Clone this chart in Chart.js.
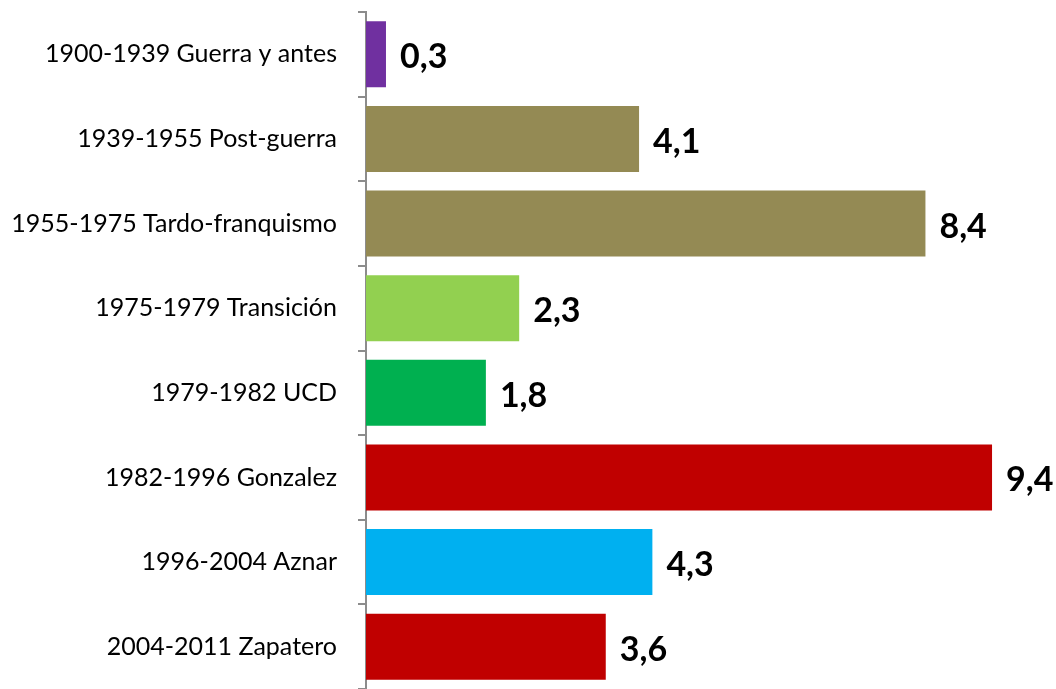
<!DOCTYPE html>
<html>
<head>
<meta charset="utf-8">
<script src="https://cdn.jsdelivr.net/npm/chart.js@4"></script>
<style>
  html, body { margin: 0; padding: 0; background: #fff; }
  #wrap { width: 1056px; height: 689px; position: relative; }
</style>
</head>
<body>
<div id="wrap"><canvas id="chart"></canvas></div>
<script>
const periodos = [
  '1900-1939 Guerra y antes',
  '1939-1955 Post-guerra',
  '1955-1975 Tardo-franquismo',
  '1975-1979 Transición',
  '1979-1982 UCD',
  '1982-1996 Gonzalez',
  '1996-2004 Aznar',
  '2004-2011 Zapatero',
];
const valores = [0.3, 4.1, 8.4, 2.3, 1.8, 9.4, 4.3, 3.6];
const colores = ['#7030A0', '#948A54', '#948A54', '#92D050', '#00B050', '#C00000', '#00B0F0', '#C00000'];

// value labels to the right of each bar
const valueLabels = {
  id: 'valueLabels',
  afterDatasetsDraw(chart) {
    const ctx = chart.ctx;
    const meta = chart.getDatasetMeta(0);
    ctx.save();
    ctx.font = 'bold 34px Lato, "Open Sans", sans-serif';
    ctx.fillStyle = '#000';
    ctx.textAlign = 'left';
    ctx.textBaseline = 'middle';
    meta.data.forEach((bar, i) => {
      const txt = valores[i].toFixed(1).replace('.', ',');
      ctx.fillText(txt, bar.x + 14, bar.y + 3);
    });
    ctx.restore();
  },
};

new Chart(document.getElementById('chart'), {
  type: 'bar',
  data: {
    labels: periodos,
    datasets: [{
      data: valores,
      backgroundColor: colores,
      borderWidth: 0,
      categoryPercentage: 0.78,
      barPercentage: 1,
    }],
  },
  options: {
    indexAxis: 'y',
    responsive: true,
    maintainAspectRatio: false,
    animation: false,
    layout: { padding: { top: 12, right: 24, bottom: -2, left: 0 } },
    plugins: { legend: { display: false }, tooltip: { enabled: false } },
    scales: {
      x: { display: false, min: 0, max: 10 },
      y: {
        afterFit: (axis) => {
          axis.width = 366;
          axis.paddingTop = 0;
          axis.paddingBottom = 0;
        },
        border: { color: '#8c8c8c', width: 2 },
        grid: { offset: true, drawOnChartArea: false, tickLength: 8, color: '#8c8c8c', lineWidth: 2 },
        ticks: {
          padding: 21,
          color: '#000',
          font: { family: 'Lato, "Open Sans", sans-serif', size: 25 },
        },
      },
    },
  },
  plugins: [valueLabels],
});
</script>
</body>
</html>
